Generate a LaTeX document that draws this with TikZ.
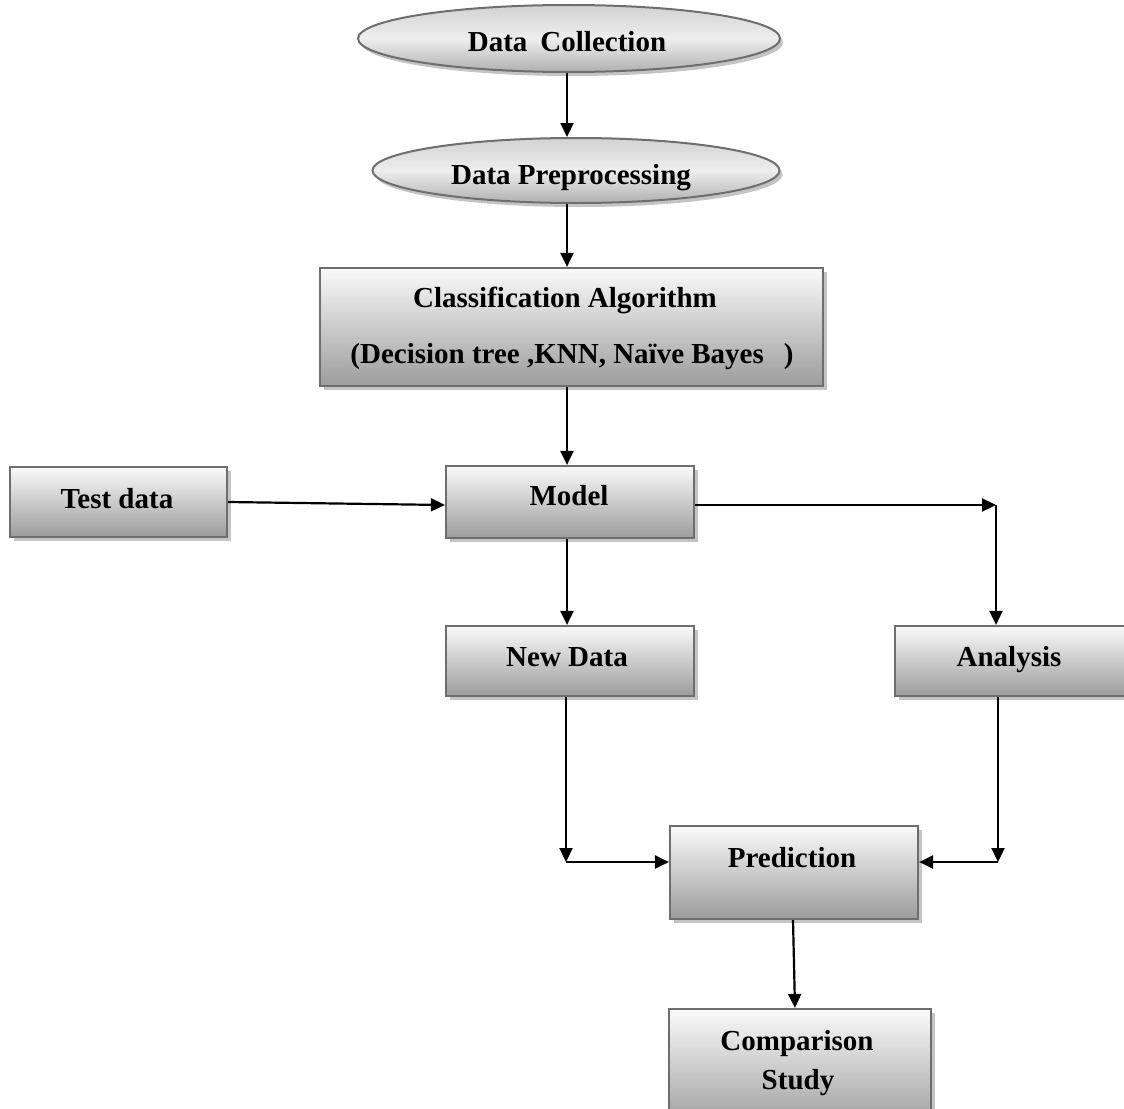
\documentclass[tikz,border=0pt]{standalone}
\usepackage{fontspec}
\setmainfont{Liberation Serif}
\usetikzlibrary{arrows.meta,shadows,shapes.geometric}
\definecolor{bordergray}{HTML}{6E6E6E}
\definecolor{shadowgray}{HTML}{C4C4C4}
\definecolor{topgray}{HTML}{FAFAFA}
\definecolor{botgray}{HTML}{9C9C9C}
\definecolor{elltop}{HTML}{D2D2D2}
\definecolor{ellmid}{HTML}{EEEEEE}
\definecolor{ellbot}{HTML}{B0B0B0}
\begin{document}
\begin{tikzpicture}[x=1pt,y=-1pt,
  boxnode/.style={draw=bordergray, line width=2.2pt, top color=topgray, bottom color=botgray,
    inner sep=0pt, drop shadow={shadow xshift=4pt, shadow yshift=-4pt, fill=shadowgray, opacity=1}},
  ellnode/.style={ellipse, draw=bordergray, line width=2pt, top color=elltop, bottom color=ellbot, middle color=ellmid,
    inner sep=0pt, drop shadow={shadow xshift=3pt, shadow yshift=-4pt, fill=shadowgray, opacity=1}},
  txt/.style={font=\fontsize{29}{34}\selectfont\bfseries, anchor=base, inner sep=0pt},
  arr/.style={line width=2.2pt, -{Triangle[length=14pt,width=13pt]}}]
\useasboundingbox (0,0) rectangle (1124,1108);

% shapes
\node[ellnode, minimum width=422pt, minimum height=67pt] (dc) at (569,38.5) {};
\node[ellnode, minimum width=407pt, minimum height=65pt] (dp) at (576,170.5) {};
\node[boxnode, minimum width=503pt, minimum height=118pt] (clf) at (571.5,327) {};
\node[boxnode, minimum width=217pt, minimum height=70pt] (test) at (118.5,502) {};
\node[boxnode, minimum width=248pt, minimum height=72pt] (model) at (570,502) {};
\node[boxnode, minimum width=248pt, minimum height=70pt] (newd) at (570,661) {};
\node[boxnode, minimum width=231pt, minimum height=70pt] (anal) at (1010.5,661) {};
\node[boxnode, minimum width=248pt, minimum height=93pt] (pred) at (794,872.5) {};
\node[boxnode, minimum width=262pt, minimum height=120pt] (comp) at (800,1069) {};

% texts
\node[txt] (tdc) at (567,52) {Data\hspace{13pt}Collection};
\node[txt] (tdp) at (571,184) {Data Preprocessing};
\node[txt] (tclf1) at (565,307) {Classification Algorithm};
\node[txt] (tclf2) at (572,363) {(Decision tree ,KNN, Naïve Bayes\hspace{20pt})};
\node[txt] (ttest) at (117,508) {Test data};
\node[txt] (tmodel) at (569,505) {Model};
\node[txt] (tnewd) at (567,666) {New Data};
\node[txt] (tanal) at (1009,666) {Analysis};
\node[txt] (tpred) at (792,867) {Prediction};
\node[txt] (tcomp1) at (797,1050) {Comparison};
\node[txt] (tcomp2) at (798,1089) {Study};

% helper coordinates
\coordinate (mx) at (567,0);
\coordinate (c2) at (996,505);
\coordinate (c3) at (566,862);
\coordinate (c4) at (998,862);

% connectors
\draw[arr] (dc.south -| mx) -- (dp.north -| mx);
\draw[arr] (dp.south -| mx) -- (clf.north -| mx);
\draw[arr] (clf.south -| mx) -- (model.north -| mx);
\draw[arr] (test.east) -- ([yshift=-3pt]model.west);
\draw[arr] (model.east |- c2) -- (c2);
\draw[arr] (c2) -- (anal.north -| c2);
\draw[arr] (model.south -| mx) -- (newd.north -| mx);
\draw[arr] (newd.south -| c3) -- (c3);
\draw[arr] (c3) -- (pred.west |- c3);
\draw[arr] (anal.south -| c4) -- (c4);
\draw[arr] (c4) -- (pred.east |- c4);
\draw[arr] ([xshift=-1pt]pred.south) -- ([xshift=-5pt]comp.north);
\end{tikzpicture}
\end{document}
